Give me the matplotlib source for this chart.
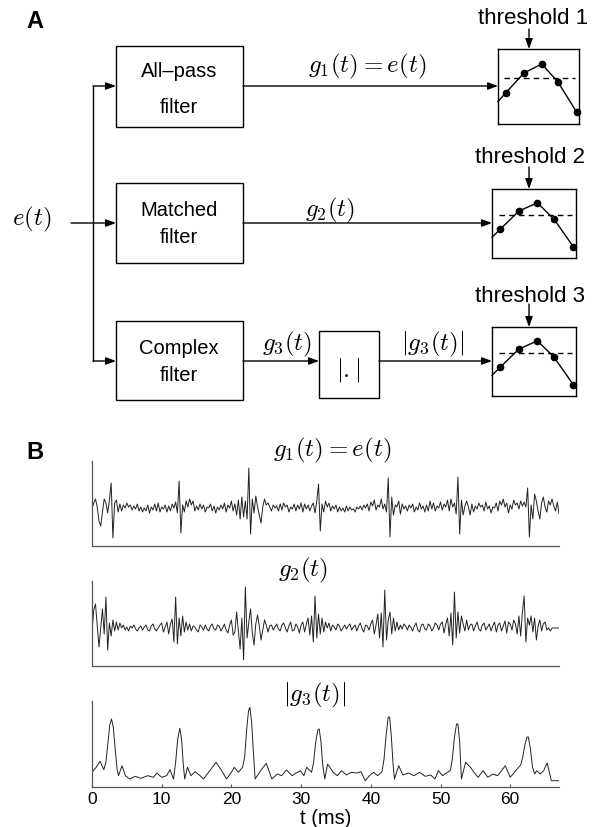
import matplotlib
matplotlib.use("Agg")
import matplotlib.pyplot as plt
from matplotlib.patches import Rectangle
import numpy as np

plt.rcParams['font.family'] = ['Liberation Sans', 'DejaVu Sans']
plt.rcParams['mathtext.fontset'] = 'cm'

W, H = 603, 828

# ---- data ----
# g1(t) = e(t), 0.25 ms steps, offset from baseline (px units)
g1 = [
    0, 6, 10, 2, -12, -17, -3, 10,
    6, -4, 9, 26, -29, 6, 9, -3,
    5, -2, 4, 1, 6, 2, 4, -1,
    3, 0, 5, -2, 2, -3, 1, -2,
    4, -4, 2, -1, 5, -2, 6, -3,
    2, 0, 4, -3, 3, -2, 5, 1,
    7, -4, 28, -24, 4, -3, 8, 2,
    10, 4, 8, -2, 3, -1, 5, 0,
    4, -3, 2, 1, 5, -2, 3, -4,
    2, -1, 4, 0, 6, -3, 4, 1,
    8, -2, 5, -6, 9, -10, 12, -8,
    8, -10, 41, -25, 10, -4, 13, 2,
    -6, -14, 2, 10, 4, 6, 2, -2,
    4, 1, 3, -2, 5, -1, 6, 2,
    4, -3, 2, 0, 5, -2, 4, 0,
    6, -3, 5, 0, 4, -2, 3, 6,
    -4, 8, 25, -22, 5, -3, 8, 2,
    6, -2, 3, 0, 4, -3, 2, -2,
    1, -3, 3, -2, 2, -1, 0, -3,
    2, 0, 3, -1, 4, 1, 5, -2,
    7, 3, 9, -1, 4, 2, 10, 0,
    5, -3, 31, -28, 12, -6, 4, 2,
    8, -5, 5, 0, 3, -2, 4, 1,
    5, -3, 2, -1, 6, 0, 3, -3,
    4, -2, 8, 0, 6, -2, 3, 1,
    7, -1, 5, 2, 9, -2, 10, 2,
    6, -5, 32, -25, 9, -6, 3, 8,
    2, -6, 5, -3, 3, 0, 6, 2,
    4, -2, 7, 0, 3, -4, 2, 1,
    6, -2, 8, 4, 10, 2, 6, -4,
    4, 0, 9, 4, 6, 0, 8, 3,
    7, 2, 21, -28, 4, -10, 15, 8,
    -2, -10, 6, 12, 2, -3, 8, 4,
    10, 3, -2, 7, -5,
]

# g2(t), matched filter output, 0.25 ms steps
g2 = [
    -3, 18, 24, 2, -19, 0, 19, -6,
    31, -22, 5, -8, 8, -3, 6, -2,
    5, 0, 3, -2, 1, -3, 2, 0,
    3, -1, -3, 0, 2, -2, 1, 3,
    -2, -3, 2, 4, -1, -3, 0, 3,
    5, -4, 1, 6, -6, 4, 9, -14,
    31, -16, 10, -8, 12, -4, 6, -2,
    4, -3, 2, 1, -2, -4, 3, 1,
    -2, 3, -1, -3, 2, 4, -1, -2,
    3, 2, -3, 0, 4, -2, -5, 3,
    8, -7, -4, 16, -2, -21, 10, -32,
    41, -10, 6, 19, -5, -17, 4, 13,
    2, -12, -2, 8, 3, -4, 2, 3,
    -2, 1, 4, -1, -3, 3, 5, 0,
    -4, 2, 6, -3, -2, 4, 1, -5,
    3, 6, -4, 4, 10, -7, 12, -14,
    32, -10, 14, -6, 10, -4, 6, 0,
    5, -3, 3, 1, -2, 4, 2, -3,
    0, 3, -1, 2, 4, -2, 1, 3,
    -3, 2, 5, -1, -4, 3, 2, -2,
    4, 8, -6, 3, 14, -10, 15, -19,
    38, -12, 8, 16, -6, 10, -3, 6,
    -2, 3, -1, 4, 2, -2, 3, 1,
    -3, 2, 5, -2, -4, 3, 4, -1,
    -2, 4, 2, -3, 0, 5, 3, -2,
    4, 6, -5, 4, 10, -8, 15, -17,
    36, -10, 16, -5, 12, 4, -3, 8,
    -2, 3, 4, -3, 2, 6, -1, -3,
    3, 5, -2, 1, 4, -3, 2, 6,
    -4, 3, 5, -3, 2, 7, -5, 6,
    4, -2, 8, 4, -6, 12, -8, 16,
    32, -14, 10, 3, 12, -4, 10, -12,
    2, 8, -3, 4, 6, -2, 0, -3,
    0, 0, 0, 0, 0,
]

# |g3(t)|, envelope, (time ms, height)
g3_t = [0, 0.6, 1.15, 1.7, 2.0, 2.3, 2.55, 2.8, 3.05, 3.3, 3.6, 3.8, 4.3, 4.8,
        5.4, 6.2, 7.0, 8.0, 8.8, 9.3, 10.0, 10.7, 11.2, 11.7, 12.0, 12.3, 12.6,
        12.85, 13.1, 13.3, 13.7, 14.2, 14.8, 15.4, 16.0, 16.9, 17.8, 18.6, 19.3,
        20.0, 20.4, 21.0, 21.6, 21.9, 22.2, 22.45, 22.65, 22.9, 23.15, 23.4,
        24.2, 25.0, 25.8, 26.6, 27.2, 27.9, 28.7, 29.3, 29.9, 30.4, 30.8, 31.5,
        31.8, 32.1, 32.4, 32.6, 32.85, 33.1, 33.4, 33.8, 34.6, 35.2, 35.8, 36.5,
        37.2, 38.0, 38.6, 39.2, 39.8, 40.4, 41.0, 41.6, 41.9, 42.2, 42.5, 42.7,
        42.95, 43.2, 43.4, 44.0, 44.6, 45.4, 46.2, 47.0, 47.8, 48.6, 49.2, 49.7,
        50.3, 51.0, 51.4, 51.7, 52.0, 52.3, 52.5, 52.75, 53.0, 53.6, 54.3, 54.8,
        55.4, 56.1, 56.8, 57.5, 58.2, 59.3, 60.0, 60.6, 61.2, 61.5, 61.8, 62.1,
        62.4, 62.6, 62.9, 63.2, 63.5, 63.8, 64.3, 64.8, 65.3, 65.9, 67.0]
g3 = [14.7, 19.7, 25.7, 17.3, 25, 45, 62, 68, 60, 40, 18, 11.3, 21.3, 11.3,
      8, 10.7, 8.7, 11.3, 9.7, 14, 9.7, 11.3, 17.3, 8, 25, 48, 58.7,
      48, 22, 8, 19.7, 11.3, 15.3, 12, 8, 16.3, 24.7, 16.3, 8,
      14.7, 19.7, 14.7, 19.7, 30, 58, 76, 79.7, 65, 35, 8,
      16.3, 23.7, 8, 13, 11.3, 17, 11.3, 14, 16.3, 11.3, 19.7, 14.7,
      25, 45, 57, 58, 45, 22, 8, 23, 14.7, 11.3, 16.3, 12,
      14.7, 14, 15.3, 6.3, 11.3, 14.7, 11.3, 15.3, 28, 52, 70, 70,
      50, 22, 8, 21.3, 12, 14, 11.3, 14.7, 10.7, 12, 8, 16.3,
      11.3, 14.7, 16.3, 28, 50, 63, 63, 45, 8, 24.7, 19.7, 14.7,
      9.7, 16.3, 9.7, 13, 11.3, 21.3, 9.7, 14.7, 19.7, 22, 30, 42,
      50, 50, 38, 20, 13, 16.3, 13, 16.3, 24, 6.3, 6.3]

xticks = [0, 10, 20, 30, 40, 50, 60]

# threshold inset curve (normalised inside the box)
ins_x = [0.0, 0.1, 0.32, 0.54, 0.74, 0.97]
ins_y = [0.30, 0.42, 0.68, 0.80, 0.56, 0.16]
ins_thr = 0.62

fig = plt.figure(figsize=(W / 100, H / 100), dpi=100)

# ---- panel A : block diagram in pixel coordinates ----
ax0 = fig.add_axes([0, 0, 1, 1])
ax0.set_xlim(0, W)
ax0.set_ylim(H, 0)
ax0.axis('off')
ax0.set_zorder(10)
ax0.patch.set_alpha(0)

LW = 1.0


def box(x0, y0, x1, y1):
    ax0.add_patch(Rectangle((x0, y0), x1 - x0, y1 - y0, fill=False, lw=LW, ec='k'))


def arrow(x0, y0, x1, y1):
    ax0.annotate('', xy=(x1, y1), xytext=(x0, y0),
                 arrowprops=dict(arrowstyle='-|>,head_length=0.6,head_width=0.22',
                                 lw=LW, color='k', shrinkA=0, shrinkB=0,
                                 mutation_scale=10))


box(116, 47, 243, 128)
box(116, 184, 243, 264)
box(116, 322, 243, 401)
box(319, 332, 379, 399)

ax0.plot([93, 93], [87, 362], color='k', lw=LW)
arrow(93, 87, 116, 87)
arrow(71, 224, 116, 224)
arrow(93, 362, 116, 362)
arrow(243, 87, 498, 87)
arrow(243, 224, 492, 224)
arrow(243, 362, 319, 362)
arrow(379, 362, 492, 362)
arrow(529, 30, 529, 50)
arrow(529, 168, 529, 190)
arrow(529, 305, 529, 328)

fs = 14.5
ax0.text(35, 21, 'A', fontsize=17, fontweight='bold', ha='center', va='center')
ax0.text(35, 453, 'B', fontsize=17, fontweight='bold', ha='center', va='center')

for txt, x, y in [('All\u2013pass', 179, 77), ('filter', 179, 113),
                  ('Matched', 179, 216), ('filter', 179, 243),
                  ('Complex', 179, 354), ('filter', 179, 381)]:
    ax0.text(x, y, txt, fontsize=fs, ha='center', va='baseline')

for txt, x, y in [('threshold 1', 533, 24), ('threshold 2', 530, 163),
                  ('threshold 3', 530, 302)]:
    ax0.text(x, y, txt, fontsize=16, ha='center', va='baseline')

ms = 18
ax0.text(367, 72, r'$g_1(t) = e(t)$', fontsize=ms, ha='center', va='baseline')
ax0.text(330, 216, r'$g_2(t)$', fontsize=ms, ha='center', va='baseline')
ax0.text(287, 350, r'$g_3(t)$', fontsize=ms, ha='center', va='baseline')
ax0.text(433, 350, r'$|g_3(t)|$', fontsize=ms, ha='center', va='baseline')
ax0.text(348, 370, r'$|.|$', fontsize=ms, ha='center', va='center')
ax0.text(32, 225, r'$e(t)$', fontsize=ms, ha='center', va='baseline')


def px_axes(x0, y0, x1, y1):
    return fig.add_axes([x0 / W, 1 - y1 / H, (x1 - x0) / W, (y1 - y0) / H])


# threshold insets
for (x0, y0, x1, y1) in [(498, 50, 579, 125), (492, 190, 576, 259), (492, 328, 576, 397)]:
    ai = px_axes(x0, y0, x1, y1)
    ai.plot(ins_x, ins_y, color='k', lw=1.0, clip_on=False)
    ai.plot(ins_x[1:], ins_y[1:], 'o', color='k', ms=4.5, clip_on=False)
    ai.plot([0.08, 0.95], [ins_thr, ins_thr], '--', color='k', lw=1.0, dashes=(4, 3))
    ai.set_xlim(0, 1)
    ai.set_ylim(0, 1)
    ai.set_xticks([])
    ai.set_yticks([])
    for s in ai.spines.values():
        s.set_linewidth(LW)

# ---- panel B : traces ----
t = np.arange(len(g1)) * 0.25


def trace_axes(y0, y1, lo, hi):
    a = px_axes(92, y0, 559, y1)
    a.patch.set_alpha(0)
    a.set_xlim(0, 67)
    a.set_ylim(lo, hi)
    a.spines['top'].set_visible(False)
    a.spines['right'].set_visible(False)
    for s in ('left', 'bottom'):
        a.spines[s].set_color('#555555')
        a.spines[s].set_linewidth(0.9)
    a.set_yticks([])
    a.tick_params(axis='x', length=2, direction='in', color='#555555')
    return a


a1 = trace_axes(462, 547, -37, 48)
a1.plot(t, g1, color='#222222', lw=0.7)
a1.set_xticks([])

a2 = trace_axes(582, 667, -38, 47)
a2.plot(t[:len(g2)], g2, color='#222222', lw=0.7)
a2.set_xticks([])

a3 = trace_axes(702, 788, 0, 86)
a3.plot(g3_t, g3, color='#222222', lw=0.7)
a3.set_xticks(xticks)
a3.set_xticklabels([str(v) for v in xticks], fontsize=12.5)
a3.tick_params(axis='x', pad=3)
a3.set_xlabel('t (ms)', fontsize=14.5, labelpad=1)

ax0.text(332, 456, r'$g_1(t) = e(t)$', fontsize=ms, ha='center', va='baseline')
ax0.text(303, 576, r'$g_2(t)$', fontsize=ms, ha='center', va='baseline')
ax0.text(315, 701, r'$|g_3(t)|$', fontsize=ms, ha='center', va='baseline')

fig.savefig('out.png', dpi=100)
